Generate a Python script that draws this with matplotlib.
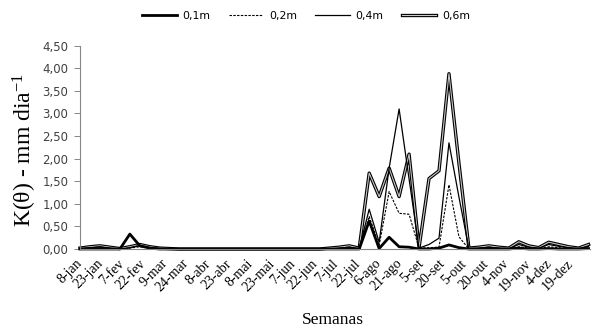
import numpy as np
import matplotlib
matplotlib.use("Agg")
import matplotlib.pyplot as plt
from matplotlib.legend_handler import HandlerTuple

plt.rcParams['mathtext.fontset'] = 'custom'
plt.rcParams['mathtext.rm'] = 'Liberation Serif'
plt.rcParams['mathtext.it'] = 'Liberation Serif'

# semanas (uma leitura a cada 7 dias a partir de 8-jan)
dias = 7 * np.arange(52)

rotulos = ['8-jan', '23-jan', '7-fev', '22-fev', '9-mar', '24-mar', '8-abr', '23-abr',
           '8-mai', '23-mai', '7-jun', '22-jun', '7-jul', '22-jul', '6-ago', '21-ago',
           '5-set', '20-set', '5-out', '20-out', '4-nov', '19-nov', '4-dez', '19-dez']

k01 = [0, 0, 0, 0, 0, 0.33, 0.07, 0.02, 0, 0, 0, 0, 0,
       0, 0, 0, 0, 0, 0, 0, 0, 0, 0, 0, 0, 0,
       0, 0, 0, 0.62, 0.01, 0.26, 0.05, 0.04, 0, 0, 0.02, 0.09, 0.03,
       0, 0, 0, 0, 0, 0.02, 0, 0, 0.01, 0, 0, 0, 0.01]
k02 = [0.01, 0.02, 0.03, 0.01, 0, 0.02, 0.05, 0.02, 0.01, 0, 0, 0, 0,
       0, 0, 0, 0, 0, 0, 0, 0, 0, 0, 0, 0, 0,
       0.01, 0.02, 0, 0.72, 0.08, 1.27, 0.79, 0.77, 0.02, 0.03, 0.04, 1.42, 0.27,
       0, 0.01, 0.02, 0.01, 0, 0.05, 0.02, 0.01, 0.05, 0.03, 0.01, 0, 0.03]
k04 = [0.01, 0.03, 0.05, 0.02, 0, 0.03, 0.08, 0.03, 0.01, 0, 0, 0, 0,
       0, 0, 0, 0, 0, 0, 0, 0, 0, 0, 0, 0, 0,
       0.02, 0.04, 0.01, 0.88, 0.15, 1.79, 3.10, 1.55, 0.02, 0.10, 0.24, 2.35, 1.15,
       0.01, 0.02, 0.04, 0.02, 0.01, 0.10, 0.04, 0.02, 0.10, 0.06, 0.03, 0.01, 0.06]
k06 = [0.02, 0.05, 0.07, 0.04, 0.01, 0.05, 0.10, 0.05, 0.02, 0.01, 0, 0, 0,
       0, 0, 0, 0, 0, 0, 0, 0, 0, 0, 0, 0, 0.02,
       0.04, 0.07, 0.02, 1.68, 1.16, 1.79, 1.16, 2.10, 0.03, 1.56, 1.73, 3.88, 1.90,
       0.02, 0.04, 0.07, 0.04, 0.02, 0.16, 0.07, 0.03, 0.15, 0.10, 0.05, 0.02, 0.10]

fig = plt.figure(figsize=(5.93, 3.29), dpi=100)
ax = fig.add_axes([80/593, 80/329, 510/593, 203.3/329])

l6a, = ax.plot(dias, k06, color='black', lw=2.4, clip_on=False)
l6b, = ax.plot(dias, k06, color='#c8c8c8', lw=0.8, clip_on=False)
l4, = ax.plot(dias, k04, color='black', lw=0.9, clip_on=False)
l2, = ax.plot(dias, k02, color='black', lw=0.8, ls=(0, (2.2, 1.2)), clip_on=False)
l1, = ax.plot(dias, k01, color='black', lw=2.0, clip_on=False)

ax.set_xlim(0, 358)
ax.set_ylim(0, 4.5)
ax.set_yticks(np.arange(0, 4.51, 0.5))
ax.set_yticklabels(['{:.2f}'.format(v).replace('.', ',') for v in np.arange(0, 4.51, 0.5)],
                   fontfamily='DejaVu Sans', fontsize=8.5, color='#404040')
ax.set_xticks(15 * np.arange(len(rotulos)))
ax.set_xticklabels(rotulos, rotation=45, ha='right', va='center', rotation_mode='anchor',
                   fontfamily='Liberation Serif', fontsize=10)
ax.tick_params(axis='x', length=0, pad=9)
ax.tick_params(axis='y', length=4.5, width=0.7, color='#868686', pad=4)

for s in ['top', 'right']:
    ax.spines[s].set_visible(False)
ax.spines['left'].set_color('#868686')
ax.spines['bottom'].set_color('#868686')
ax.spines['left'].set_linewidth(0.8)
ax.spines['bottom'].set_linewidth(0.8)

fig.text(25/593, 1 - 150/329, 'K(θ) - mm dia$^{-1}$', rotation=90, ha='center', va='center',
         fontfamily='Liberation Serif', fontsize=17)
fig.text(333/593, 9/329, 'Semanas', ha='center', va='center',
         fontfamily='Liberation Serif', fontsize=12.5)

fig.legend([l1, l2, l4, (l6a, l6b)], ['0,1m', '0,2m', '0,4m', '0,6m'],
           handler_map={tuple: HandlerTuple(ndivide=1)},
           loc='center', bbox_to_anchor=(306/593, 1 - 15.7/329), ncol=4, frameon=False,
           prop={'family': 'DejaVu Sans', 'size': 7.8}, handlelength=3.2, handletextpad=0.5,
           columnspacing=1.7)

fig.savefig('out.png', dpi=100)
